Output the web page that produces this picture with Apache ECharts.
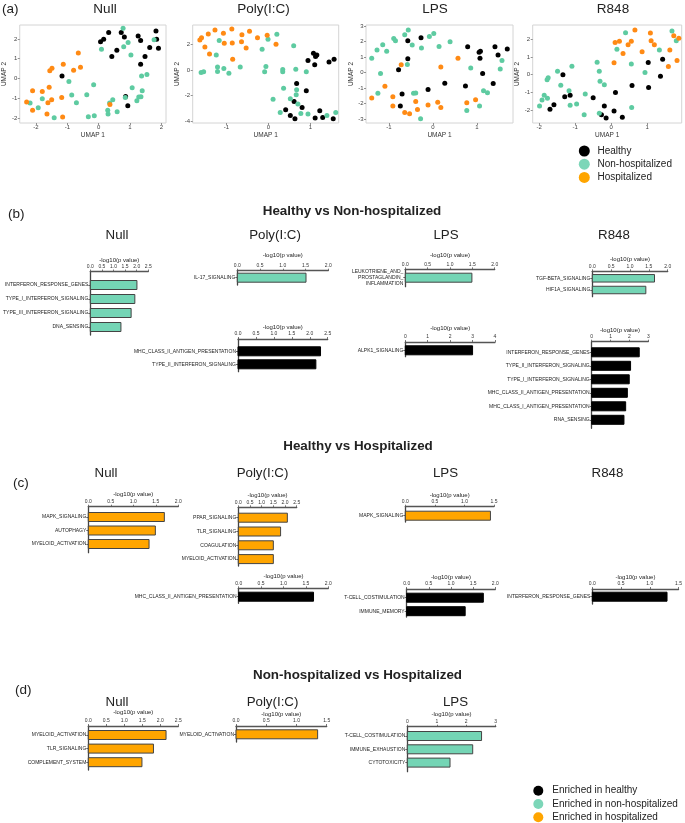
<!DOCTYPE html>
<html><head><meta charset="utf-8">
<script src="https://cdn.jsdelivr.net/npm/echarts@6/dist/echarts.min.js"></script>
<style>html,body{margin:0;padding:0;background:#fff}#c{width:685px;height:823px}</style>
</head><body><div id="c"></div>
<script>
// ---------------- UMAP data (x, y) ----------------
const nullHealthy = [[0.32,2.32],[0.06,1.85],[0.16,1.98],[0.72,2.32],[0.82,2.1],[1.26,2.15],[1.34,1.92],[1.83,2.4],[1.85,1.98],[1.91,1.53],[1.63,1.56],[1.48,1.11],[1.34,0.72],[0.58,1.43],[0.42,1.11],[-1.17,0.13],[0.86,-0.91],[0.93,-1.38]];
const nullNonHosp = [[0.78,2.54],[0.94,1.82],[0.8,1.6],[0.09,1.48],[1.03,1.18],[1.77,1.95],[1.37,0.12],[1.54,0.2],[-0.95,-0.15],[-0.16,-0.32],[1.07,-0.47],[1.39,-0.62],[-0.86,-0.84],[-0.38,-0.82],[-1.8,-1.03],[-2.19,-1.24],[-1.93,-1.48],[-0.71,-1.23],[0.45,-1.08],[0.35,-1.24],[0.85,-0.96],[1.28,-0.94],[1.35,-0.92],[1.22,-1.13],[0.29,-1.6],[0.3,-1.8],[0.59,-1.68],[-0.14,-1.88],[-0.33,-1.93],[-1.42,-1.98]];
const nullHosp = [[-0.65,1.28],[-1.13,0.72],[-0.58,0.57],[-0.8,0.42],[-1.49,0.52],[-1.56,0.39],[-1.58,-0.45],[-2.11,-0.62],[-1.8,-0.66],[-1.5,-1.08],[-1.62,-1.23],[-2.3,-1.19],[-2.11,-1.6],[-1.65,-1.8],[-1.18,-0.96],[-1.15,-1.95],[0.36,-1.31]];

const polyHealthy = [[1.07,1.29],[1.15,1.16],[0.94,0.72],[1.12,1.03],[1.1,0.39],[1.44,0.62],[1.56,0.82],[0.67,-1.06],[0.9,-1.62],[0.61,-2.45],[0.8,-2.91],[0.41,-3.09],[0.52,-3.53],[0.63,-3.79],[1.11,-3.74],[1.22,-3.17],[1.29,-3.69],[1.54,-3.79]];
const polyNonHosp = [[0.2,2.76],[-0.01,2.37],[-1.17,2.27],[-0.15,1.6],[0.6,1.88],[-1.24,1.16],[-0.67,0.23],[-1.21,0.23],[-1.21,-0.13],[-1.06,0.1],[-0.94,-0.26],[-1.54,-0.15],[-1.6,-0.2],[-0.06,0.26],[-0.09,-0.15],[0.34,0.03],[0.34,-0.15],[0.65,0.05],[0.9,-0.15],[0.36,-1.42],[0.67,-1.55],[0.52,-2.24],[0.11,-2.27],[0.7,-2.65],[0.28,-3.3],[0.77,-3.38],[0.94,-3.43],[1.39,-3.53],[1.6,-3.3],[0.66,-1.93]];
const polyHosp = [[-1.63,2.32],[-1.59,2.5],[-1.43,2.78],[-1.27,3.09],[-1.07,2.84],[-0.87,3.17],[-0.63,2.73],[-0.45,2.99],[-0.26,2.5],[-0.03,2.68],[-1.51,1.78],[-1.05,2.06],[-0.86,2.09],[-0.64,2.19],[-0.53,1.7],[-1.4,1.24],[-0.85,0.82],[0.18,1.98]];

const lpsHealthy = [[-0.27,2.25],[-0.57,2.06],[-0.57,0.89],[-0.78,0.19],[-0.7,-1.38],[-0.74,-2.14],[-0.11,-1.08],[0.27,-0.68],[0.79,1.67],[1.05,1.31],[1.08,1.38],[1.07,0.93],[1.13,-0.06],[1.41,1.67],[1.48,1.14],[1.69,1.53],[1.37,-0.7],[0.74,-0.85]];
const lpsNonHosp = [[-1.39,0.93],[-1.27,1.46],[-1.14,1.8],[-1.05,1.38],[-0.89,2.2],[-0.85,2.06],[-0.64,2.44],[-0.56,2.75],[-0.47,1.78],[-0.26,1.59],[-0.08,2.33],[0.02,2.52],[0.14,1.69],[0.39,1.99],[-1.19,-0.06],[-0.58,0.53],[-1.25,-1.33],[-0.44,-1.33],[-0.39,-1.31],[-0.28,-2.97],[0.86,0.3],[1.15,-1.17],[1.24,-1.29],[1.06,-2.14],[0.77,-2.44],[1.57,0.78],[1.53,0.23]];
const lpsHosp = [[-0.72,0.51],[0.18,0.36],[0.57,0.93],[-1.09,-0.87],[-1.39,-1.63],[-0.91,-1.55],[-0.91,-2.14],[-0.39,-1.86],[-0.35,-2.37],[-0.64,-2.56],[-0.53,-2.65],[-0.11,-2.08],[0.11,-1.91],[0.18,-2.25],[0.77,-1.93],[0.97,-1.74]];

const r848Healthy = [[-1.34,0],[-1.29,-1.24],[-1.14,-1.15],[-1.59,-1.69],[-1.7,-1.94],[-0.5,-1.3],[0.12,-1.0],[0.58,-0.61],[1.03,0.69],[1.43,0.87],[1.37,-0.09],[1.04,-0.72],[-0.19,-1.76],[-0.27,-2.26],[-0.14,-2.44],[0.08,-2.04],[0.31,-2.39]];
const r848NonHosp = [[0.4,2.37],[1.69,2.46],[1.81,1.91],[0.16,1.44],[1.34,1.39],[-0.39,0.7],[-1.09,0.48],[-1.49,0.2],[-1.75,-0.17],[-1.78,-0.28],[-1.4,-0.59],[-0.33,0.2],[-0.31,-0.37],[-0.19,-0.56],[-1.17,-0.91],[-0.72,-1.09],[-1.86,-1.15],[-1.92,-1.43],[-1.77,-1.33],[-1.99,-1.76],[-1.14,-1.72],[-0.96,-1.65],[-0.75,-2.26],[-0.33,-2.17],[0.57,-1.85],[0.56,0.61],[0.94,0.13]];
const r848Hosp = [[0.66,2.52],[0.11,1.81],[0.23,1.89],[0.47,1.69],[0.56,1.89],[0.33,1.2],[0.08,0.67],[1.09,2.35],[1.11,1.91],[1.2,1.69],[0.86,1.3],[1.74,2.19],[1.88,2.06],[1.63,1.39],[1.59,0.46],[1.83,0.8]];

const umapTitles = ['Null','Poly(I:C)','LPS','R848'];
const groupNames = ['Healthy','Non-hospitalized','Hospitalized'];
const enrichedNames = ['Enriched in healthy','Enriched in non-hospitalized','Enriched in hospitalized'];
const umapTicksX = [[-2,-1,0,1,2],[-1,0,1],[-1,0,1],[-2,-1,0,1,2]];
const umapTicksY = [[-2,-1,0,1,2],[-4,-2,0,2],[-3,-2,-1,0,1,2,3],[-2,-1,0,1,2]];

// ---------------- Pathway bar data ----------------
// (b) Healthy vs Non-hospitalized
const hvnNullCats = ['INTERFERON_RESPONSE_GENES','TYPE_I_INTERFERON_SIGNALING','TYPE_III_INTERFERON_SIGNALING','DNA_SENSING'];
const hvnNullVals = [2.01,1.92,1.76,1.32];
const hvnPolyNonCats = ['IL-17_SIGNALING'];
const hvnPolyNonVals = [1.51];
const hvnLpsNonCats = ['LEUKOTRIENE_AND_\nPROSTAGLANDIN_\nINFLAMMATION'];
const hvnLpsNonVals = [1.49];
const hvnR848NonCats = ['TGF-BETA_SIGNALING','HIF1A_SIGNALING'];
const hvnR848NonVals = [1.65,1.42];
const hvnPolyHealthyCats = ['MHC_CLASS_II_ANTIGEN_PRESENTATION','TYPE_II_INTERFERON_SIGNALING'];
const hvnPolyHealthyVals = [2.3,2.17];
const hvnLpsHealthyCats = ['ALPK1_SIGNALING'];
const hvnLpsHealthyVals = [3.0];
const hvnR848HealthyCats = ['INTERFERON_RESPONSE_GENES','TYPE_II_INTERFERON_SIGNALING','TYPE_I_INTERFERON_SIGNALING','MHC_CLASS_II_ANTIGEN_PRESENTATION','MHC_CLASS_I_ANTIGEN_PRESENTATION','RNA_SENSING'];
const hvnR848HealthyVals = [2.52,2.06,1.99,1.89,1.8,1.71];
// (c) Healthy vs Hospitalized
const hvhNullHospCats = ['MAPK_SIGNALING','AUTOPHAGY','MYELOID_ACTIVATION'];
const hvhNullHospVals = [1.69,1.49,1.35];
const hvhPolyHospCats = ['PPAR_SIGNALING','TLR_SIGNALING','COAGULATION','MYELOID_ACTIVATION'];
const hvhPolyHospVals = [2.1,1.81,1.5,1.5];
const hvhPolyHealthyCats = ['MHC_CLASS_II_ANTIGEN_PRESENTATION'];
const hvhPolyHealthyVals = [1.67];
const hvhLpsHospCats = ['MAPK_SIGNALING'];
const hvhLpsHospVals = [1.44];
const hvhLpsHealthyCats = ['T-CELL_COSTIMULATION','IMMUNE_MEMORY'];
const hvhLpsHealthyVals = [1.73,1.32];
const hvhR848HealthyCats = ['INTERFERON_RESPONSE_GENES'];
const hvhR848HealthyVals = [1.3];
// (d) Non-hospitalized vs Hospitalized
const nvhNullHospCats = ['MYELOID_ACTIVATION','TLR_SIGNALING','COMPLEMENT_SYSTEM'];
const nvhNullHospVals = [2.16,1.81,1.49];
const nvhPolyHospCats = ['MYELOID_ACTIVATION'];
const nvhPolyHospVals = [1.35];
const nvhLpsNonCats = ['T-CELL_COSTIMULATION','IMMUNE_EXHAUSTION','CYTOTOXICITY'];
const nvhLpsNonVals = [2.52,2.22,1.45];

// ---------------- styles & layout ----------------
const FONT = '"Liberation Sans", Arial, Helvetica, sans-serif';
const C_BLACK = '#000000', C_GREEN = '#5ECBA1', C_ORANGE = '#FF8A14';
const L_GREEN = '#7CD6B8', L_ORANGE = '#FFA500';
const B_GREEN = '#74D5B5', B_ORANGE = '#FFA500', B_BLACK = '#000000';

const umapData = [
  [nullHealthy, nullNonHosp, nullHosp],
  [polyHealthy, polyNonHosp, polyHosp],
  [lpsHealthy, lpsNonHosp, lpsHosp],
  [r848Healthy, r848NonHosp, r848Hosp]
];
const umapLayout = [
  {left:15, top:25, width:151, height:98, xr:[-2.52,2.15], yr:[-2.25,2.7], gapY:2, tx:105},
  {left:192.7, top:25, width:146, height:98, xr:[-1.8,1.67], yr:[-4.12,3.48], gapY:10, tx:263.5},
  {left:366, top:25, width:147, height:98, xr:[-1.52,1.82], yr:[-3.24,3.07], gapY:10, tx:435},
  {left:532.7, top:25, width:149, height:98, xr:[-2.18,1.96], yr:[-2.72,2.8], gapY:6, tx:613}
];

const barSpecs = [
  {cats:hvnNullCats, vals:hvnNullVals, color:B_GREEN, x0:88.3, x1:148.3, xmax:2.5, step:0.5, dec:1, axisY:271.5, titleY:262.5, c0:285, s:14, bottom:335},
  {cats:hvnPolyNonCats, vals:hvnPolyNonVals, color:B_GREEN, x0:237.3, x1:328.3, xmax:2, step:0.5, dec:1, axisY:270.7, titleY:255.7, c0:277.7, s:14, bottom:285},
  {cats:hvnLpsNonCats, vals:hvnLpsNonVals, color:B_GREEN, x0:405.3, x1:494.7, xmax:2, step:0.5, dec:1, axisY:269.3, titleY:255.7, c0:277.7, s:14, bottom:286.7},
  {cats:hvnR848NonCats, vals:hvnR848NonVals, color:B_GREEN, x0:592.3, x1:667.7, xmax:2, step:0.5, dec:1, axisY:271.3, titleY:259, c0:278.3, s:11.7, bottom:296.7, barH:7.5},
  {cats:hvnPolyHealthyCats, vals:hvnPolyHealthyVals, color:B_BLACK, x0:238, x1:327.7, xmax:2.5, step:0.5, dec:1, axisY:339, titleY:328.3, c0:351.3, s:13, bottom:371.7},
  {cats:hvnLpsHealthyCats, vals:hvnLpsHealthyVals, color:B_BLACK, x0:405.3, x1:495, xmax:4, step:1, dec:0, axisY:342, titleY:328.3, c0:350.3, s:14, bottom:356.7},
  {cats:hvnR848HealthyCats, vals:hvnR848HealthyVals, color:B_BLACK, x0:591.7, x1:648.3, xmax:3, step:1, dec:0, axisY:341.7, titleY:331.7, c0:352.3, s:13.5, bottom:428.3},
  {cats:hvhNullHospCats, vals:hvhNullHospVals, color:B_ORANGE, x0:88.3, x1:178.3, xmax:2, step:0.5, dec:1, axisY:506.7, titleY:494, c0:517, s:13.5, bottom:552.7},
  {cats:hvhPolyHospCats, vals:hvhPolyHospVals, color:B_ORANGE, x0:238.3, x1:296.7, xmax:2.5, step:0.5, dec:1, axisY:507.3, titleY:495, c0:517.7, s:13.8, bottom:566},
  {cats:hvhPolyHealthyCats, vals:hvhPolyHealthyVals, color:B_BLACK, x0:238.7, x1:328.3, xmax:2, step:0.5, dec:1, axisY:588.3, titleY:576.7, c0:596.7, s:14, bottom:603.3},
  {cats:hvhLpsHospCats, vals:hvhLpsHospVals, color:B_ORANGE, x0:405.3, x1:494, xmax:1.5, step:0.5, dec:1, axisY:506.7, titleY:495, c0:515.7, s:14, bottom:522},
  {cats:hvhLpsHealthyCats, vals:hvhLpsHealthyVals, color:B_BLACK, x0:406.7, x1:495.3, xmax:2, step:0.5, dec:1, axisY:589, titleY:577.7, c0:597.7, s:13.5, bottom:617},
  {cats:hvhR848HealthyCats, vals:hvhR848HealthyVals, color:B_BLACK, x0:592.3, x1:685, xmax:1.5, step:0.5, dec:1, axisY:589, titleY:577.7, c0:596.7, s:14, bottom:604},
  {cats:nvhNullHospCats, vals:nvhNullHospVals, color:B_ORANGE, x0:88.3, x1:178.3, xmax:2.5, step:0.5, dec:1, axisY:726, titleY:712.3, c0:735, s:13.6, bottom:770},
  {cats:nvhPolyHospCats, vals:nvhPolyHospVals, color:B_ORANGE, x0:236, x1:326.7, xmax:1.5, step:0.5, dec:1, axisY:726, titleY:714, c0:734.3, s:14, bottom:742},
  {cats:nvhLpsNonCats, vals:nvhLpsNonVals, color:B_GREEN, x0:407.3, x1:495.7, xmax:3, step:1, dec:0, axisY:726.7, titleY:714, c0:736, s:13.3, bottom:771.7}
];

const grids = [], xAxes = [], yAxes = [], series = [], graphics = [];

// UMAP panels
const ptColors = [C_BLACK, C_GREEN, C_ORANGE];
umapLayout.forEach((L, k) => {
  const gi = grids.length;
  grids.push({left:L.left, top:L.top, width:L.width, height:L.height, show:true, borderColor:'#d4d4d4', borderWidth:1, backgroundColor:'transparent'});
  const common = {
    gridIndex:gi, type:'value', splitLine:{show:false},
    axisLine:{show:false, onZero:false},
    nameTextStyle:{fontFamily:FONT, fontSize:6.5, color:'#333'}
  };
  xAxes.push(Object.assign({}, common, {
    position:'bottom',
    min:L.xr[0], max:L.xr[1], name:'UMAP 1', nameLocation:'middle', nameGap:8,
    axisTick:{show:true, length:2, customValues:umapTicksX[k], lineStyle:{color:'#777', width:0.8}},
    axisLabel:{customValues:umapTicksX[k], fontFamily:FONT, fontSize:6, color:'#444', margin:1.5}
  }));
  yAxes.push(Object.assign({}, common, {
    position:'left',
    min:L.yr[0], max:L.yr[1], name:'UMAP 2', nameLocation:'middle', nameGap:L.gapY,
    axisTick:{show:true, length:2, customValues:umapTicksY[k], lineStyle:{color:'#777', width:0.8}},
    axisLabel:{customValues:umapTicksY[k], fontFamily:FONT, fontSize:6, color:'#444', margin:2.5}
  }));
  umapData[k].forEach((pts, g) => {
    series.push({type:'scatter', name:groupNames[g], xAxisIndex:gi, yAxisIndex:gi, data:pts,
      symbol:'circle', symbolSize:5, itemStyle:{color:ptColors[g], opacity:1}, silent:true});
  });
  graphics.push({type:'text', x:L.tx, y:9, style:{text:umapTitles[k], fontFamily:FONT, fontSize:13.5, fill:'#222', align:'center', verticalAlign:'middle'}});
});

// Bar panels
barSpecs.forEach(B => {
  const gi = grids.length;
  const n = B.cats.length;
  const clast = B.c0 + (n - 1) * B.s;
  const ymin = -(B.c0 - B.axisY) / B.s;
  const ymax = (n - 1) + (B.bottom - clast) / B.s;
  const idx = B.cats.map((c, i) => i);
  grids.push({left:B.x0, top:B.axisY, width:B.x1 - B.x0, height:B.bottom - B.axisY});
  xAxes.push({
    gridIndex:gi, type:'value', position:'top', min:0, max:B.xmax, interval:B.step,
    name:'-log10(p value)', nameLocation:'middle', nameGap:Math.max(B.axisY - B.titleY - 3, 4),
    nameTextStyle:{fontFamily:FONT, fontSize:6, color:'#222'},
    axisLine:{show:true, onZero:false, lineStyle:{color:'#555', width:1.3}},
    axisTick:{show:true, length:2, lineStyle:{color:'#555', width:0.8}},
    axisLabel:{fontFamily:FONT, fontSize:5, color:'#333', margin:2.5, formatter:v => v.toFixed(B.dec)},
    splitLine:{show:false}
  });
  yAxes.push({
    gridIndex:gi, type:'value', inverse:true, min:ymin, max:ymax,
    axisLine:{show:true, onZero:false, lineStyle:{color:'#444', width:1.3}},
    axisTick:{show:true, length:2, customValues:idx, lineStyle:{color:'#444', width:0.8}},
    axisLabel:{customValues:idx, fontFamily:FONT, fontSize:5, lineHeight:6.3, color:'#222', margin:2,
      formatter:v => B.cats[Math.round(v)] || ''},
    splitLine:{show:false}
  });
  const bh = B.barH || 9;
  const stroke = B.color === B_BLACK ? '#000' : '#444';
  series.push({
    type:'custom', xAxisIndex:gi, yAxisIndex:gi, clip:false, silent:true,
    data:B.vals.map((v, i) => [v, i]), encode:{x:0, y:1},
    renderItem:(params, api) => {
      const v = api.value(0), i = api.value(1);
      const p0 = api.coord([0, i]), p1 = api.coord([v, i]);
      return {type:'rect', shape:{x:p0[0], y:p0[1] - bh / 2, width:p1[0] - p0[0], height:bh},
        style:{fill:B.color, stroke:stroke, lineWidth:1}};
    }
  });
});

// headings
function txt(t, x, y, size, weight, align) {
  graphics.push({type:'text', x:x, y:y, style:{text:t, fontFamily:FONT, fontSize:size, fontWeight:weight || 'normal', fill:'#222', align:align || 'center', verticalAlign:'middle'}});
}
txt('(a)', 2, 9, 13.5, 'normal', 'left');
txt('(b)', 8, 214, 13.5, 'normal', 'left');
txt('(c)', 13, 483, 13.5, 'normal', 'left');
txt('(d)', 15, 690, 13.5, 'normal', 'left');
txt('Healthy vs Non-hospitalized', 352, 211, 13.4, 'bold');
txt('Healthy vs Hospitalized', 358, 446, 13.4, 'bold');
txt('Non-hospitalized vs Hospitalized', 357.5, 675, 13.4, 'bold');
[[117,'Null'],[275,'Poly(I:C)'],[446,'LPS'],[614,'R848']].forEach(a => txt(a[1], a[0], 235, 13.3));
[[106,'Null'],[262.5,'Poly(I:C)'],[445.5,'LPS'],[607.5,'R848']].forEach(a => txt(a[1], a[0], 473, 13.3));
[[117,'Null'],[272.5,'Poly(I:C)'],[455.5,'LPS']].forEach(a => txt(a[1], a[0], 702.5, 13.3));

// legends
const legColors = [C_BLACK, L_GREEN, L_ORANGE];
groupNames.forEach((nm, i) => {
  const cy = 151 + i * 13.2;
  graphics.push({type:'circle', shape:{cx:584.3, cy:cy, r:5.5}, style:{fill:legColors[i]}});
  txt(nm, 597.5, cy, 10, 'normal', 'left');
});
enrichedNames.forEach((nm, i) => {
  const cy = 790.7 + i * 13.3;
  graphics.push({type:'circle', shape:{cx:538.3, cy:cy, r:5}, style:{fill:legColors[i]}});
  txt(nm, 552.3, cy, 10, 'normal', 'left');
});

const chart = echarts.init(document.getElementById('c'), null, {renderer:'canvas'});
chart.setOption({
  animation:false,
  backgroundColor:'#ffffff',
  textStyle:{fontFamily:FONT},
  grid:grids, xAxis:xAxes, yAxis:yAxes, series:series,
  graphic:{elements:graphics}
});
</script></body></html>
